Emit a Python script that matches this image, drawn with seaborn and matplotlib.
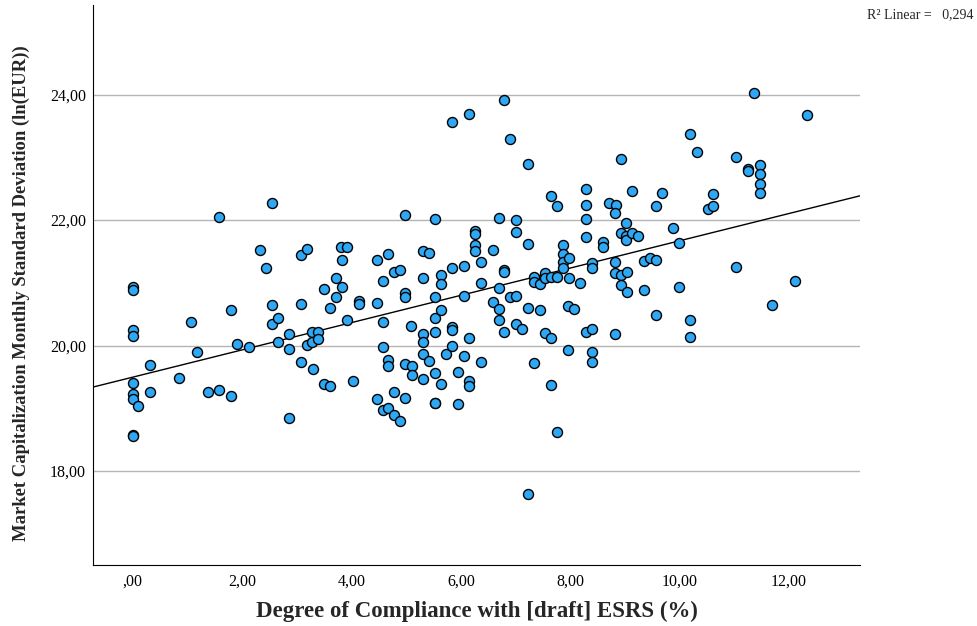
import numpy as np
import pandas as pd
import matplotlib
matplotlib.use('Agg')
import matplotlib.pyplot as plt
import seaborn as sns

sns.set_style('white')
plt.rcParams['font.family'] = ['Liberation Serif', 'DejaVu Serif']

# valores (cumplimiento %, desviacion ln(EUR))
compliance = [
    0.0, 0.0, 0.0, 0.0, 0.0, 0.0, 0.0, 0.0, 0.0,
    0.10, 0.31, 0.31, 0.84, 1.06, 1.17, 1.37, 1.58, 1.58,
    1.80, 1.80, 1.91, 2.12, 2.33, 2.44, 2.54, 2.54, 2.54, 2.65, 2.65, 2.86, 2.86, 2.86,
    3.07, 3.18, 3.08, 3.08, 3.18, 3.28, 3.28, 3.29, 3.39, 3.39, 3.50, 3.50, 3.61, 3.61,
    3.71, 3.71, 3.81, 3.82, 3.82, 3.91, 3.91, 4.03,
    4.14, 4.14, 4.46, 4.46, 4.46, 4.57, 4.57, 4.57, 4.57, 4.66, 4.66, 4.66, 4.66,
    4.77, 4.77, 4.77, 4.88, 4.88, 4.98, 4.98, 4.98, 4.98, 4.98, 5.09, 5.10, 5.10,
    5.31, 5.31, 5.31, 5.31, 5.31, 5.31, 5.42, 5.42, 5.52, 5.52, 5.52, 5.52, 5.52, 5.52, 5.52,
    5.63, 5.63, 5.63, 5.63, 5.73, 5.84, 5.84, 5.84, 5.84, 5.84, 5.95, 5.95,
    6.05, 6.05, 6.05, 6.15, 6.15, 6.15, 6.15, 6.25, 6.25, 6.25, 6.25, 6.37, 6.37, 6.37,
    6.58, 6.58, 6.69, 6.69, 6.69, 6.69, 6.79, 6.79, 6.79, 6.79, 6.90, 6.90,
    7.01, 7.01, 7.01, 7.01, 7.12,
    7.22, 7.22, 7.22, 7.22, 7.33, 7.33, 7.33, 7.44, 7.44, 7.54, 7.54, 7.54,
    7.64, 7.65, 7.65, 7.64, 7.75, 7.75, 7.75, 7.86, 7.86, 7.86, 7.86, 7.97, 7.97, 7.96, 7.96,
    8.07, 8.17,
    8.28, 8.28, 8.28, 8.28, 8.28, 8.39, 8.39, 8.39, 8.39, 8.39, 8.60, 8.60, 8.71, 8.83,
    8.82, 8.82, 8.82, 8.82, 8.92, 8.92, 8.92, 8.92, 9.02, 9.02, 9.02, 9.03, 9.03,
    9.13, 9.13, 9.24, 9.35, 9.35, 9.46, 9.56, 9.56, 9.56, 9.67, 9.88, 9.99, 9.99,
    10.20, 10.20, 10.20, 10.31, 10.52, 10.62, 10.62, 11.04, 11.04, 11.26, 11.26, 11.36,
    11.47, 11.47, 11.47, 11.47, 11.69, 12.11, 12.33,
]
volatility = [
    20.93, 20.88, 20.25, 20.16, 19.41, 19.22, 19.14, 18.58, 18.56,
    19.04, 19.69, 19.26, 19.49, 20.37, 19.90, 19.26, 19.29, 22.05,
    20.56, 19.19, 20.03, 19.97, 21.52, 21.23, 22.27, 20.64, 20.34, 20.44, 20.06, 20.18, 19.94, 18.85,
    21.45, 21.54, 20.66, 19.73, 20.01, 20.22, 20.06, 19.62, 20.21, 20.11, 20.90, 19.38, 20.60, 19.36,
    21.08, 20.78, 21.57, 21.36, 20.94, 21.57, 20.40, 19.43,
    20.71, 20.66, 21.37, 20.68, 19.14, 21.03, 20.37, 19.97, 18.98, 21.46, 19.77, 19.68, 19.00,
    21.17, 19.26, 18.89, 21.20, 18.79, 22.08, 20.83, 20.77, 19.71, 19.17, 20.31, 19.68, 19.53,
    21.51, 21.08, 20.19, 20.05, 19.86, 19.47, 21.48, 19.76, 22.01, 20.77, 20.44, 20.22, 19.56, 19.09, 19.08,
    21.12, 20.98, 20.56, 19.38, 19.86, 23.57, 21.24, 20.30, 20.24, 20.00, 19.58, 19.06,
    21.27, 20.79, 19.84, 23.70, 20.12, 19.43, 19.35, 21.83, 21.78, 21.60, 21.50, 21.34, 21.00, 19.73,
    21.52, 20.70, 22.04, 20.91, 20.58, 20.41, 23.92, 21.20, 21.17, 20.22, 23.30, 20.78,
    22.00, 21.81, 20.79, 20.35, 20.26,
    22.90, 21.62, 20.60, 17.63, 21.10, 21.01, 19.72, 20.98, 20.57, 21.15, 21.08, 20.20,
    22.39, 21.10, 20.12, 19.37, 22.22, 21.10, 18.62, 21.60, 21.46, 21.34, 21.23, 21.40, 21.07, 20.63, 19.93,
    20.58, 20.99,
    22.49, 22.24, 22.02, 21.73, 20.22, 21.32, 21.23, 20.27, 19.89, 19.73, 21.65, 21.57, 22.28, 22.24,
    22.11, 21.34, 21.15, 20.18, 22.98, 21.79, 21.13, 20.97, 21.95, 21.74, 21.68, 21.17, 20.86,
    22.46, 21.80, 21.74, 21.35, 20.88, 21.40, 22.22, 21.37, 20.48, 22.44, 21.88, 21.64, 20.93,
    23.37, 20.41, 20.14, 23.09, 22.18, 22.42, 22.22, 23.00, 21.25, 22.82, 22.78, 24.03,
    22.88, 22.73, 22.58, 22.43, 20.65, 21.03, 23.68,
]

x_ticks = [0, 2, 4, 6, 8, 10, 12]
x_tick_labels = [',00', '2,00', '4,00', '6,00', '8,00', '10,00', '12,00']
y_ticks = [18, 20, 22, 24]
y_tick_labels = ['18,00', '20,00', '22,00', '24,00']

df = pd.DataFrame({'Compliance': compliance, 'Volatility': volatility})

fig = plt.figure(figsize=(9.77, 6.26), dpi=100)
ax = fig.add_axes([0.0952, 0.0974, 0.785, 0.8946])
ax.set_xlim(-0.73, 13.3)
ax.set_ylim(16.5, 25.43)

sns.regplot(data=df, x='Compliance', y='Volatility', ax=ax, ci=None, truncate=False,
            scatter_kws=dict(s=52, color='#2ea8f5', edgecolor='black', linewidths=1.0, alpha=1, zorder=3),
            line_kws=dict(color='black', lw=1.0, zorder=2))

ax.set_xticks(x_ticks)
ax.set_xticklabels(x_tick_labels)
ax.set_yticks(y_ticks)
ax.set_yticklabels(y_tick_labels)
ax.tick_params(axis='both', direction='out', length=3, width=0.8, colors='black', labelsize=11.5)
ax.tick_params(axis='y', pad=2)
for ytick in y_ticks:
    ax.axhline(ytick, color='#b5b5b5', lw=1.0, zorder=1)

for side in ['top', 'right']:
    ax.spines[side].set_visible(False)
for side in ['left', 'bottom']:
    ax.spines[side].set_color('black')
    ax.spines[side].set_linewidth(0.8)

ax.set_xlabel('Degree of Compliance with [draft] ESRS (%)', fontsize=16.5, fontweight='bold', labelpad=8)
ax.set_ylabel('Market Capitalization Monthly Standard Deviation (ln(EUR))', fontsize=13.4,
              fontweight='bold')
ax.yaxis.set_label_coords(-0.082, 0.486)

fig.text(0.887, 0.977, 'R² Linear =   0,294', fontsize=10, ha='left', va='center')

fig.savefig('out.png', dpi=100)
